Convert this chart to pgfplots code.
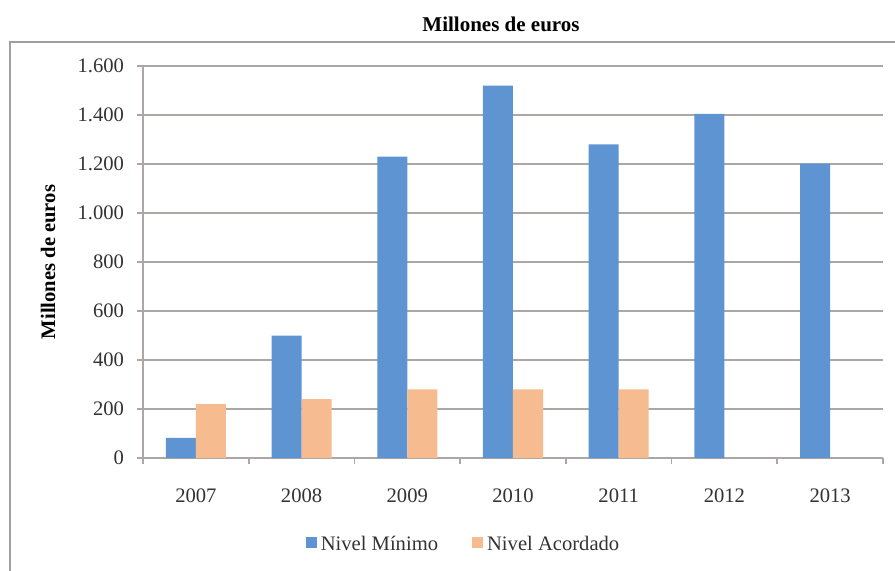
\documentclass[border=0pt]{standalone}
\usepackage{fontspec}
\setmainfont{Liberation Serif}
\usepackage{pgfplots}
\pgfplotsset{compat=1.18}
\definecolor{barblue}{RGB}{94,148,210}
\definecolor{barorange}{RGB}{246,188,143}
\definecolor{gridc}{RGB}{172,166,164}
\definecolor{framec}{RGB}{160,160,160}
\begin{document}
\begin{tikzpicture}
\useasboundingbox (0,0) rectangle (447.5pt,-285pt);
\fill[white] (0,0) rectangle (447.5pt,-285pt);
\draw[framec, line width=1.2pt] (5pt,-290pt) -- (5pt,-21pt) -- (452pt,-21pt);
\node[font=\fontsize{10.5pt}{12pt}\selectfont\rmfamily\bfseries] at (250.5pt,-12pt) {Millones de euros};
\node[font=\fontsize{10.3pt}{12pt}\selectfont\rmfamily\bfseries, rotate=90] at (24pt,-131pt) {Millones de euros};
\begin{axis}[
  at={(71.5pt,-229pt)}, anchor=south west,
  scale only axis, width=370pt, height=196pt,
  xmin=-0.5, xmax=6.5, ymin=0, ymax=1600,
  ybar, bar width=15pt,
  axis x line*=bottom, axis y line*=left,
  axis line style={gridc, line width=0.8pt},
  xtick={0,1,2,3,4,5,6},
  xticklabels={2007,2008,2009,2010,2011,2012,2013},
  major x tick style={draw=none},
  minor xtick={-0.5,0.5,1.5,2.5,3.5,4.5,5.5,6.5},
  minor tick length=3pt, major tick length=3pt,
  tick align=outside,
  tick style={gridc, line width=0.8pt},
  ytick={0,200,...,1600},
  ymajorgrids, grid style={gridc, line width=0.8pt},
  /pgf/number format/.cd, use comma, 1000 sep={.}, assume math mode=true,
  /pgfplots/.cd,
  tick label style={font=\fontsize{10.3pt}{12pt}\selectfont\rmfamily, black!80},
  xticklabel style={yshift=-9pt},
  yticklabel style={xshift=-3pt},
  legend style={at={(0.4345,-0.222)}, anchor=center, draw=none, fill=none,
    font=\fontsize{10.3pt}{12pt}\selectfont\rmfamily, text=black!80,
    /tikz/every even column/.append style={column sep=15pt}},
  legend columns=2,
  legend image code/.code={\fill[#1] (0pt,-1.5pt) rectangle (5.5pt,4pt);},
]
\addplot[fill=barblue, draw=none, bar shift=-7.5pt] coordinates {(0,82) (1,500) (2,1230) (3,1520) (4,1280) (5,1405) (6,1202)};
\addplot[fill=barorange, draw=none, bar shift=7.5pt] coordinates {(0,220) (1,240) (2,280) (3,280) (4,280)};
\legend{Nivel Mínimo, Nivel Acordado}
\end{axis}
\end{tikzpicture}
\end{document}
